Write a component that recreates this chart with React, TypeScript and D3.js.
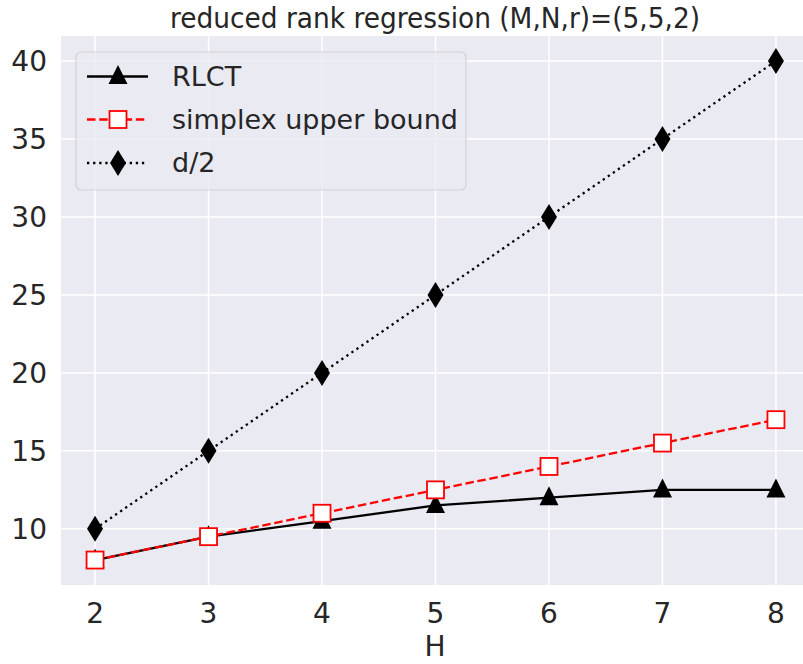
import React from "react";
import * as d3 from "d3";

const H = [2, 3, 4, 5, 6, 7, 8];
const rlct = [8, 9.5, 10.5, 11.5, 12, 12.5, 12.5];
const simplex = [8, 9.5, 11, 12.5, 14, 15.5, 17];
const dHalf = [10, 15, 20, 25, 30, 35, 40];
const yTicks = [10, 15, 20, 25, 30, 35, 40];
const title = "reduced rank regression (M,N,r)=(5,5,2)";
const legendLabels = ["RLCT", "simplex upper bound", "d/2"];

const W = 803;
const HH = 664;
const left = 61;
const right = 810;
const top = 36;
const bottom = 585;
const FONT = "DejaVu Sans";
const TXT = "#262626";
const LW = 2.3;

function triPath(s: number) {
  const h = s;
  return `M0,${-h * 0.6}L${s / 2},${h * 0.4}L${-s / 2},${h * 0.4}Z`;
}
function diamondPath(w: number, h: number) {
  return `M0,${-h / 2}L${w / 2},0L0,${h / 2}L${-w / 2},0Z`;
}

export default function App() {
  const x = d3.scaleLinear().domain([1.7, 8.3]).range([left, right]);
  const y = d3.scaleLinear().domain([6.4, 41.6]).range([bottom, top]);
  const line = (vals: number[]) =>
    d3.line<number>().x((_, i) => x(H[i])).y((v) => y(v))(vals) || "";

  const legY = [76.5, 119.5, 163];

  return (
    <svg width={W} height={HH} style={{ position: "absolute", left: 0, top: 0 }}>
      <rect x={0} y={0} width={W} height={HH} fill="#fff" />
      <rect x={left} y={top} width={right - left} height={bottom - top} fill="#EAEAF2" />
      {H.map((h) => (
        <line key={"gx" + h} x1={x(h)} x2={x(h)} y1={top} y2={bottom} stroke="#fff" strokeWidth={1.5} />
      ))}
      {yTicks.map((t) => (
        <line key={"gy" + t} x1={left} x2={right} y1={y(t)} y2={y(t)} stroke="#fff" strokeWidth={1.5} />
      ))}
      {H.map((h) => (
        <text key={"tx" + h} x={x(h)} y={623} textAnchor="middle" fontFamily={FONT} fontSize={28} fill={TXT}>
          {h}
        </text>
      ))}
      {yTicks.map((t) => (
        <text key={"ty" + t} x={left - 14} y={y(t)} dy="0.36em" textAnchor="end" fontFamily={FONT} fontSize={28} fill={TXT}>
          {t}
        </text>
      ))}
      <text x={435} y={656} textAnchor="middle" fontFamily={FONT} fontSize={28} fill={TXT}>
        H
      </text>
      <text x={435} y={28} textAnchor="middle" fontFamily={FONT} fontSize={28} fill={TXT} textLength={530} lengthAdjust="spacingAndGlyphs">
        {title}
      </text>

      {/* d/2 */}
      <path d={line(dHalf)} fill="none" stroke="#000" strokeWidth={LW} strokeDasharray="2.3,3.8" />
      {/* RLCT */}
      <path d={line(rlct)} fill="none" stroke="#000" strokeWidth={LW} />
      {/* simplex */}
      <path d={line(simplex)} fill="none" stroke="red" strokeWidth={LW} strokeDasharray="8.5,3.7" />

      {dHalf.map((v, i) => (
        <path key={"d" + i} d={diamondPath(16, 26)} transform={`translate(${x(H[i])},${y(v)})`} fill="#000" />
      ))}
      {rlct.map((v, i) => (
        <path key={"r" + i} d={triPath(19)} transform={`translate(${x(H[i])},${y(v)})`} fill="#000" />
      ))}
      {simplex.map((v, i) => (
        <rect key={"s" + i} x={x(H[i]) - 8.5} y={y(v) - 8.5} width={17} height={17} fill="#fff" stroke="red" strokeWidth={1.8} />
      ))}

      {/* legend */}
      <rect x={76} y={52} width={390} height={138} rx={5} fill="#EAEAF2" fillOpacity={0.8} stroke="#cccccc" strokeOpacity={0.8} strokeWidth={1.2} />
      <line x1={87} x2={148} y1={legY[0]} y2={legY[0]} stroke="#000" strokeWidth={LW} />
      <path d={triPath(19)} transform={`translate(118,${legY[0]})`} fill="#000" />
      <line x1={87} x2={148} y1={legY[1]} y2={legY[1]} stroke="red" strokeWidth={LW} strokeDasharray="8.5,3.7" />
      <rect x={118 - 8.5} y={legY[1] - 8.5} width={17} height={17} fill="#fff" stroke="red" strokeWidth={1.8} />
      <line x1={87} x2={148} y1={legY[2]} y2={legY[2]} stroke="#000" strokeWidth={LW} strokeDasharray="2.3,3.8" />
      <path d={diamondPath(16, 26)} transform={`translate(118,${legY[2]})`} fill="#000" />
      {legendLabels.map((l, i) => (
        <text key={l} x={172} y={legY[i]} dy="0.35em" fontFamily={FONT} fontSize={27} fill={TXT}>
          {l}
        </text>
      ))}
    </svg>
  );
}
